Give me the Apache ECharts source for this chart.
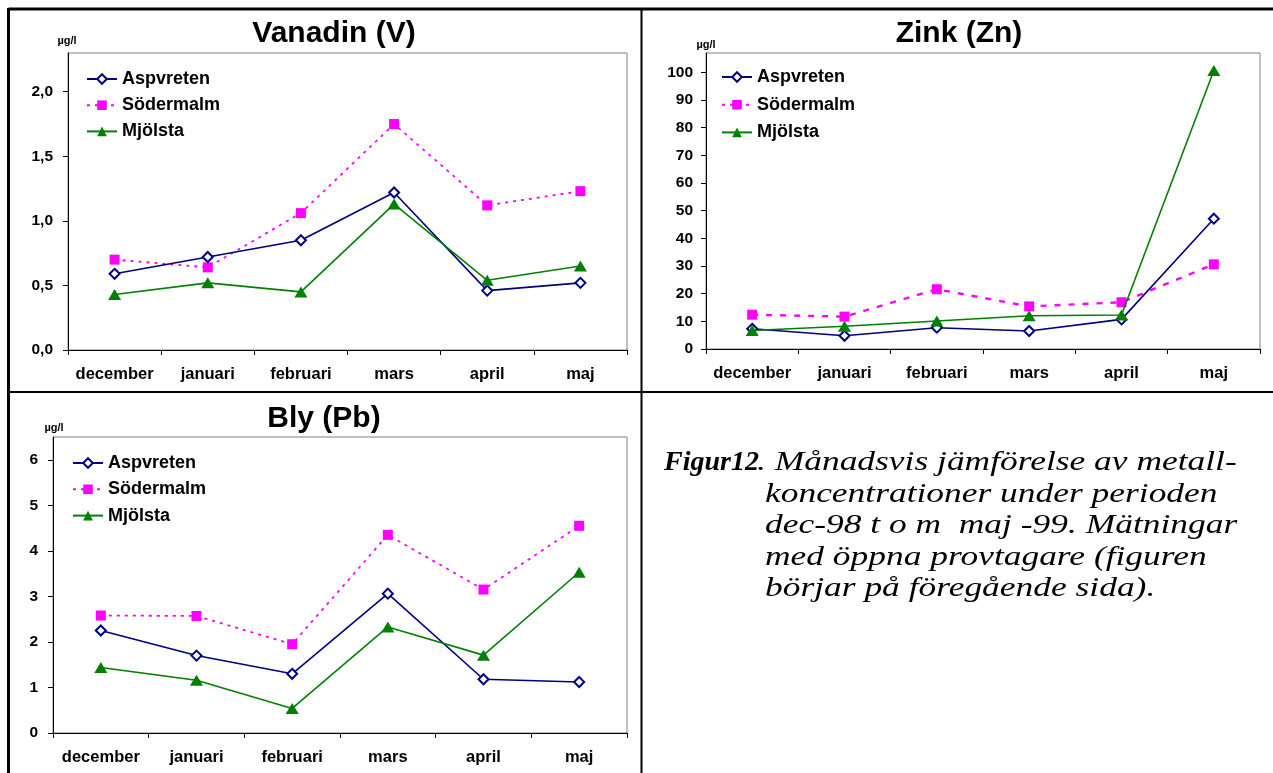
<!DOCTYPE html>
<html>
<head>
<meta charset="utf-8">
<script src="https://cdn.jsdelivr.net/npm/echarts@6/dist/echarts.min.js"></script>
<style>
  html, body { margin: 0; padding: 0; background: #fff; }
  #c { width: 1273px; height: 773px; }
</style>
</head>
<body>
<div id="c"></div>
<script>
// Months and stations
const months = ['december', 'januari', 'februari', 'mars', 'april', 'maj'];
const stations = ['Aspvreten', 'Södermalm', 'Mjölsta'];

// Vanadin (V), µg/l
const vAspvreten = [0.59, 0.72, 0.85, 1.22, 0.46, 0.52];
const vSodermalm = [0.70, 0.64, 1.06, 1.75, 1.12, 1.23];
const vMjolsta   = [0.43, 0.52, 0.45, 1.13, 0.54, 0.65];
const vTicks     = [0, 0.5, 1.0, 1.5, 2.0];

// Zink (Zn), µg/l
const znAspvreten = [7.3, 4.8, 7.7, 6.5, 10.7, 47.1];
const znSodermalm = [12.4, 11.7, 21.6, 15.4, 16.9, 30.6];
const znMjolsta   = [6.7, 8.2, 10.1, 12.0, 12.3, 100.7];
const znTicks     = [0, 10, 20, 30, 40, 50, 60, 70, 80, 90, 100];

// Bly (Pb), µg/l
const pbAspvreten = [2.25, 1.70, 1.30, 3.06, 1.18, 1.12];
const pbSodermalm = [2.58, 2.57, 1.95, 4.35, 3.15, 4.55];
const pbMjolsta   = [1.44, 1.16, 0.54, 2.33, 1.71, 3.53];
const pbTicks     = [0, 1, 2, 3, 4, 5, 6];

const FONT = '"Liberation Sans", Arial, sans-serif';
const SERIF = '"Liberation Serif", "Times New Roman", serif';
const NAVY = '#000080', MAGENTA = '#FF00FF', GREEN = '#008000';

const grids = [
  { left: 68,  top: 53,  width: 559, height: 297 },
  { left: 706, top: 53,  width: 554, height: 296 },
  { left: 53,  top: 437, width: 574, height: 296 }
];
const yMax = [2.3, 107, 6.5];
const yTicks = [vTicks, znTicks, pbTicks];
const dashes = [[3, 5], [6, 8], [3, 5]];
const dashWidth = [1.8, 2.4, 1.8];
const seriesData = [
  [vAspvreten, vSodermalm, vMjolsta],
  [znAspvreten, znSodermalm, znMjolsta],
  [pbAspvreten, pbSodermalm, pbMjolsta]
];
const legendPos = [
  { left: 86, top: 69, itemGap: 6.2 },
  { left: 721, top: 67, itemGap: 7.7 },
  { left: 72, top: 453, itemGap: 6.3 }
];

const fmtComma = (v, dec) => (dec ? v.toFixed(1).replace('.', ',') : String(v));

const xAxes = grids.map((g, i) => ({
  type: 'category', gridIndex: i, data: months, boundaryGap: true,
  axisLine: { show: true, lineStyle: { color: '#000', width: 1 } },
  axisTick: { show: true, length: 5, lineStyle: { color: '#000' } },
  axisLabel: { color: '#000', fontFamily: FONT, fontWeight: 'bold', fontSize: 16.5, margin: 16, interval: 0 },
  splitLine: { show: false }
}));

const yAxes = grids.map((g, i) => ({
  type: 'value', gridIndex: i, min: 0, max: yMax[i],
  axisLine: { show: true, lineStyle: { color: '#000', width: 1 } },
  axisTick: { show: true, length: 5, lineStyle: { color: '#000' }, customValues: yTicks[i] },
  axisLabel: {
    color: '#000', fontFamily: FONT, fontWeight: 'bold', fontSize: 15.5, margin: i === 1 ? 13 : 15,
    customValues: yTicks[i],
    formatter: v => fmtComma(v, i === 0)
  },
  splitLine: { show: false }
}));

const series = [];
seriesData.forEach((set, i) => {
  series.push({
    name: stations[0], type: 'line', xAxisIndex: i, yAxisIndex: i, data: set[0],
    symbol: 'emptyDiamond', symbolSize: 10,
    lineStyle: { color: NAVY, width: 1.6 },
    itemStyle: { color: NAVY, borderWidth: 1.2 },
    z: 3
  });
  series.push({
    name: stations[1], type: 'line', xAxisIndex: i, yAxisIndex: i, data: set[1],
    symbol: 'rect', symbolSize: 10,
    lineStyle: { color: MAGENTA, width: dashWidth[i], type: dashes[i] },
    itemStyle: { color: MAGENTA },
    z: 2
  });
  series.push({
    name: stations[2], type: 'line', xAxisIndex: i, yAxisIndex: i, data: set[2],
    symbol: 'triangle', symbolSize: [13, 11],
    lineStyle: { color: GREEN, width: 1.6 },
    itemStyle: { color: GREEN },
    z: 4
  });
});

const legends = legendPos.map(p => ({
  orient: 'vertical', left: p.left, top: p.top, padding: 0,
  itemWidth: 30, itemHeight: 12, itemGap: p.itemGap,
  data: stations,
  textStyle: { color: '#000', fontFamily: FONT, fontWeight: 'bold', fontSize: 18, lineHeight: 20 },
  selectedMode: false
}));

function txt(text, x, y, font, extra, sx) {
  return {
    type: 'text', x: x, y: y, scaleX: sx || 1, silent: true,
    style: Object.assign({ text: text, font: font, fill: '#000', textAlign: 'center', textVerticalAlign: 'middle' }, extra || {})
  };
}

// caption lines (regular italic set slightly wide)
const CAP_FONT = 'italic 28px ' + SERIF;
const CAP_SX = 1.265;
const CAP_LEFT = 765;

const graphics = [
  // table frame
  { type: 'line', shape: { x1: 8.5, y1: 9, x2: 1273, y2: 9 }, style: { stroke: '#000', lineWidth: 3 }, silent: true },
  { type: 'line', shape: { x1: 8.5, y1: 8, x2: 8.5, y2: 773 }, style: { stroke: '#000', lineWidth: 3 }, silent: true },
  { type: 'line', shape: { x1: 641.5, y1: 8, x2: 641.5, y2: 773 }, style: { stroke: '#000', lineWidth: 2 }, silent: true },
  { type: 'line', shape: { x1: 8, y1: 392, x2: 1273, y2: 392 }, style: { stroke: '#000', lineWidth: 2 }, silent: true },
  // chart titles
  txt('Vanadin (V)', 334, 34, 'bold 30px ' + FONT),
  txt('Zink (Zn)', 959, 34, 'bold 30px ' + FONT),
  txt('Bly (Pb)', 324, 418.5, 'bold 30px ' + FONT),
  // unit labels
  txt('µg/l', 67, 40.5, 'bold 11px ' + FONT),
  txt('µg/l', 706, 45, 'bold 11px ' + FONT),
  txt('µg/l', 54, 428, 'bold 11px ' + FONT),
  // caption
  txt('Figur12', 664, 463, 'italic bold 28px ' + SERIF, { textAlign: 'left' }),
  txt('. Månadsvis jämförelse av metall-', 757, 463, CAP_FONT, { textAlign: 'left' }, CAP_SX),
  txt('koncentrationer under perioden', CAP_LEFT, 494.5, CAP_FONT, { textAlign: 'left' }, CAP_SX),
  txt('dec-98 t o m  maj -99. Mätningar', CAP_LEFT, 526, CAP_FONT, { textAlign: 'left' }, CAP_SX),
  txt('med öppna provtagare (figuren', CAP_LEFT, 557.5, CAP_FONT, { textAlign: 'left' }, CAP_SX),
  txt('börjar på föregående sida).', CAP_LEFT, 589, CAP_FONT, { textAlign: 'left' }, CAP_SX)
];

const chart = echarts.init(document.getElementById('c'), null, { renderer: 'canvas' });
chart.setOption({
  animation: false,
  backgroundColor: '#fff',
  grid: grids.map(g => Object.assign({ show: true, borderColor: '#808080', borderWidth: 1, backgroundColor: 'transparent', containLabel: false }, g)),
  xAxis: xAxes,
  yAxis: yAxes,
  legend: legends,
  series: series,
  graphic: graphics
});
</script>
</body>
</html>
